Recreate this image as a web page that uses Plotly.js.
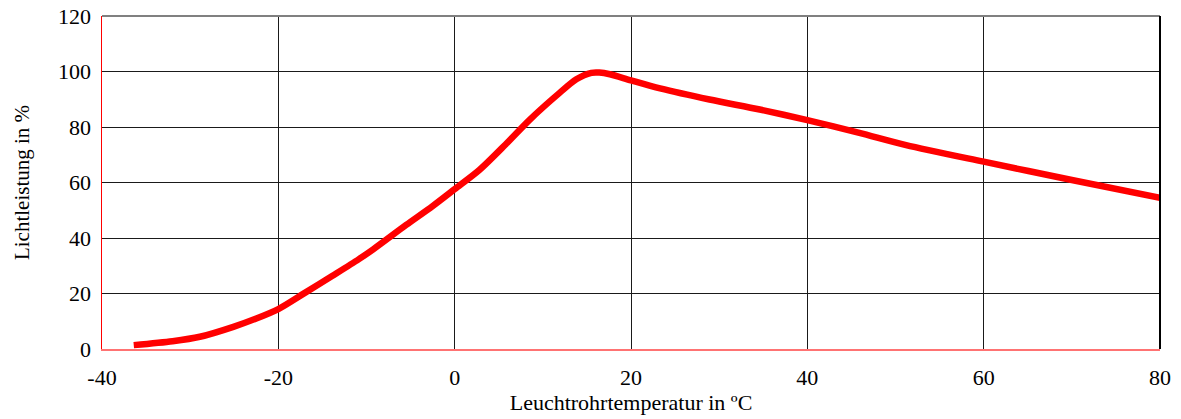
<!DOCTYPE html>
<html>
<head>
<meta charset="utf-8">
<script src="https://cdn.plot.ly/plotly-3.0.1.min.js"></script>
<style>html,body{margin:0;padding:0;background:#fff;}#chart{width:1181px;height:419px;}</style>
</head>
<body>
<div id="chart"></div>
<script>
// Temperature (°C) and relative light output (%)
const temperature = [-36.4, -32, -28.9, -25.1, -22.5, -20, -16.9, -13.9, -10.9, -9.2, -5.5, -2.5, 0, 2.8, 5.8, 8.5, 11.9, 13.8, 15.5, 16.4, 17.6, 20, 23.3, 28.9, 34.6, 40, 45.9, 51.2, 60, 70, 80];
const lightOutput = [1.4, 2.8, 4.4, 8.0, 11.0, 14.4, 20.4, 26.3, 32.3, 36.0, 44.7, 51.5, 57.6, 64.5, 73.8, 82.6, 92.3, 97.2, 99.5, 99.6, 99.0, 96.8, 93.9, 89.9, 86.3, 82.5, 77.9, 73.5, 67.5, 60.9, 54.5];
const xTickVals = [-40, -20, 0, 20, 40, 60, 80];
const xTickText = ['-40', '-20', '0', '20', '40', '60', '80'];
const yTickVals = [0, 20, 40, 60, 80, 100, 120];
const xTitle = 'Leuchtrohrtemperatur in ºC';
const yTitle = 'Lichtleistung in %';

const FAMILY = 'Liberation Serif';

Plotly.newPlot('chart', [{
  x: temperature,
  y: lightOutput,
  type: 'scatter',
  mode: 'lines',
  line: {color: '#ff0000', width: 6.5, shape: 'spline', smoothing: 0.8},
  hoverinfo: 'skip'
}], {
  width: 1181, height: 419,
  margin: {l: 102, r: 21, t: 16, b: 70},
  paper_bgcolor: '#fff', plot_bgcolor: '#fff',
  showlegend: false,
  font: {family: FAMILY, size: 22, color: '#000'},
  xaxis: {
    range: [-40, 80], tickvals: xTickVals, ticktext: xTickText,
    showgrid: true, gridcolor: '#1a1a1a', gridwidth: 1,
    zeroline: false, showline: true, linecolor: '#ff7373', linewidth: 2,
    ticks: '', ticklabelstandoff: 8,
    tickfont: {family: FAMILY, size: 22, color: '#000'},
    title: {text: xTitle, font: {family: FAMILY, size: 22, color: '#000'}, standoff: 2}
  },
  yaxis: {
    range: [0, 120], tickvals: yTickVals,
    showgrid: true, gridcolor: '#1a1a1a', gridwidth: 1,
    zeroline: false, showline: true, linecolor: '#ff0000', linewidth: 1.5,
    ticks: '', ticklabelstandoff: 5,
    tickfont: {family: FAMILY, size: 22, color: '#000'},
    title: {text: yTitle, font: {family: FAMILY, size: 21, color: '#000'}, standoff: 22}
  },
  shapes: [
    {type: 'line', xref: 'paper', yref: 'paper', x0: 0, x1: 1, y0: 1, y1: 1, line: {color: '#808080', width: 2}},
    {type: 'line', xref: 'paper', yref: 'paper', x0: 1, x1: 1, y0: 0, y1: 1, line: {color: '#000', width: 2}}
  ]
}, {staticPlot: true, displayModeBar: false});
</script>
</body>
</html>
